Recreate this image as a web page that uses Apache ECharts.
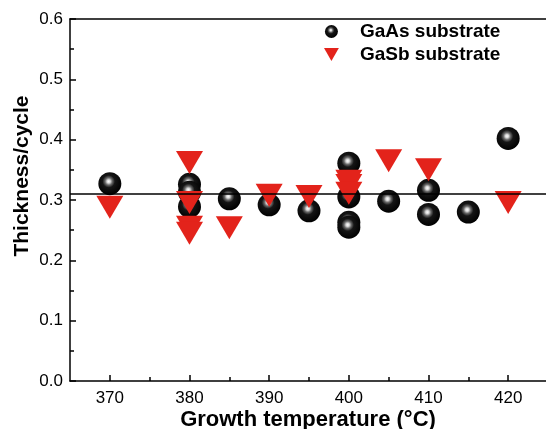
<!DOCTYPE html>
<html>
<head>
<meta charset="utf-8">
<script src="https://cdn.jsdelivr.net/npm/echarts@6/dist/echarts.min.js"></script>
<style>
html,body{margin:0;padding:0;background:#fff;}
#chart{width:546px;height:429px;}
</style>
</head>
<body>
<div id="chart"></div>
<script>
// ---- data ----
const gaasTemps = [370, 380, 380, 380, 385, 390, 395, 400, 400, 400, 400, 405, 410, 410, 415, 420];
const gaasValues = [0.327, 0.326, 0.313, 0.289, 0.302, 0.292, 0.282, 0.361, 0.305, 0.263, 0.255, 0.298, 0.316, 0.276, 0.280, 0.402];
const gasbTemps = [370, 380, 380, 380, 380, 385, 390, 395, 400, 400, 400, 405, 410, 420];
const gasbValues = [0.288, 0.362, 0.296, 0.255, 0.245, 0.254, 0.308, 0.306, 0.331, 0.324, 0.311, 0.365, 0.350, 0.296];
const referenceLevel = 0.308;
const xMajorTicks = [370, 380, 390, 400, 410, 420];
const xMinorTicks = [375, 385, 395, 405, 415];
const seriesNames = ['GaAs substrate', 'GaSb substrate'];
const xTitle = 'Growth temperature (\u00B0C)';
const yTitle = 'Thickness/cycle';

const pairs = (xs, ys) => xs.map((x, i) => [x, ys[i]]);

const sphere = {
  type: 'radial', x: 0.45, y: 0.4, r: 0.6,
  colorStops: [
    { offset: 0, color: '#ffffff' },
    { offset: 0.12, color: '#d8d8d8' },
    { offset: 0.26, color: '#6a6a6a' },
    { offset: 0.45, color: '#151515' },
    { offset: 1, color: '#000000' }
  ]
};
const red = '#e3231b';
const axisColor = '#000';
const labelFont = 'Liberation Sans, Arial, sans-serif';
const downTriangle = 'path://M0,0L16,0L8,14Z';
const xMin = 365, xMax = 424.75;

const chart = echarts.init(document.getElementById('chart'), null, { renderer: 'canvas' });
chart.setOption({
  animation: false,
  backgroundColor: '#fff',
  grid: { left: 70, top: 19, right: 0, height: 362, show: false, containLabel: false },
  legend: {
    left: 319, top: 17, orient: 'vertical', itemWidth: 15, itemHeight: 13, itemGap: 4,
    textStyle: { fontFamily: labelFont, fontWeight: 'bold', fontSize: 19, color: '#000', padding: [0, 0, 0, 16] },
    data: [
      { name: seriesNames[0], icon: 'circle' },
      { name: seriesNames[1], icon: downTriangle, itemStyle: { color: red } }
    ]
  },
  xAxis: [
    {
      type: 'value', min: xMin, max: xMax, position: 'bottom',
      axisLine: { show: true, onZero: false, lineStyle: { color: axisColor, width: 1.5 } },
      axisTick: { show: true, inside: true, length: 6, customValues: xMajorTicks, lineStyle: { color: axisColor, width: 1.5 } },
      axisLabel: { customValues: xMajorTicks, margin: 9, color: '#000', fontFamily: labelFont, fontSize: 17 },
      splitLine: { show: false }
    },
    {
      type: 'value', min: xMin, max: xMax, position: 'bottom', gridIndex: 0,
      axisLine: { show: false },
      axisTick: { show: true, inside: true, length: 4, customValues: xMinorTicks, lineStyle: { color: axisColor, width: 1.5 } },
      axisLabel: { show: false },
      splitLine: { show: false }
    },
    {
      type: 'value', min: xMin, max: xMax, position: 'top', gridIndex: 0,
      axisLine: { show: true, onZero: false, lineStyle: { color: axisColor, width: 1.5 } },
      axisTick: { show: false },
      axisLabel: { show: false },
      splitLine: { show: false }
    }
  ],
  yAxis: {
    type: 'value', min: 0, max: 0.6, interval: 0.1,
    axisLine: { show: true, onZero: false, lineStyle: { color: axisColor, width: 1.5 } },
    axisTick: { show: true, inside: true, length: 6, lineStyle: { color: axisColor, width: 1.5 } },
    minorTick: { show: true, splitNumber: 2, length: 4, lineStyle: { color: axisColor, width: 1.5 } },
    axisLabel: { margin: 7, color: '#000', fontFamily: labelFont, fontSize: 17, formatter: v => v.toFixed(1) },
    splitLine: { show: false }
  },
  series: [
    {
      name: seriesNames[0], type: 'scatter', xAxisIndex: 0, z: 2,
      symbol: 'circle', symbolSize: 23,
      itemStyle: { color: sphere, opacity: 1 },
      data: pairs(gaasTemps, gaasValues),
      markLine: {
        silent: true, symbol: ['none', 'none'], label: { show: false },
        lineStyle: { color: '#000', width: 1.5, type: 'solid' },
        data: [{ yAxis: referenceLevel }]
      }
    },
    {
      name: seriesNames[1], type: 'scatter', xAxisIndex: 0, z: 3,
      symbol: 'triangle', symbolRotate: 180, symbolSize: [27, 23],
      itemStyle: { color: red, opacity: 1 },
      data: pairs(gasbTemps, gasbValues)
    }
  ],
  graphic: [
    { type: 'text', x: 308, y: 420, style: { text: xTitle, font: 'bold 22px ' + labelFont, fill: '#000', textAlign: 'center', textVerticalAlign: 'middle' } },
    { type: 'text', x: 22, y: 176, rotation: Math.PI / 2, style: { text: yTitle, font: 'bold 21px ' + labelFont, fill: '#000', textAlign: 'center', textVerticalAlign: 'middle' } }
  ]
});
</script>
</body>
</html>
